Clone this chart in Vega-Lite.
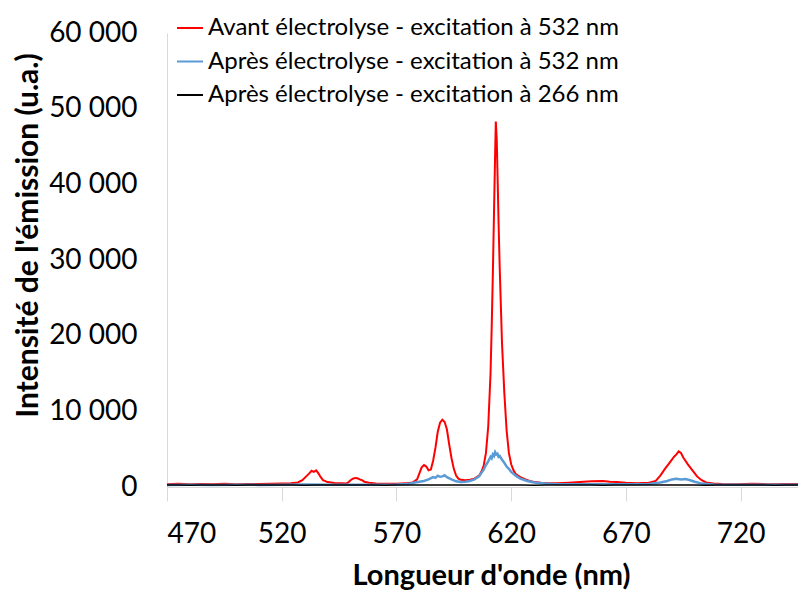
{
  "$schema": "https://vega.github.io/schema/vega-lite/v6.json",
  "width": 631,
  "height": 454,
  "autosize": {"type": "none"},
  "padding": {"left": 167, "top": 33, "right": 0, "bottom": 105},
  "background": "white",
  "config": {
    "view": {"stroke": null},
    "font": "Lato",
    "axis": {"labelFont": "Lato", "titleFont": "Lato", "labelColor": "#000000", "titleColor": "#000000"}
  },
  "layer": [
    {
      "data": {
        "values": [
          {"x":470,"y":380},{"x":475,"y":420},{"x":480,"y":360},{"x":485,"y":400},{"x":490,"y":380},{"x":495,"y":430},{"x":500,"y":370},{"x":505,"y":410},{"x":510,"y":390},{"x":515,"y":420},{"x":520,"y":450},{"x":524,"y":500},{"x":527,"y":600},{"x":529,"y":900},{"x":531,"y":1500},{"x":532,"y":1800},{"x":533,"y":2150},{"x":534,"y":2000},{"x":535,"y":2200},{"x":536,"y":1800},{"x":537,"y":1300},{"x":538,"y":900},{"x":540,"y":650},{"x":543,"y":520},{"x":546,"y":480},{"x":548,"y":450},{"x":549,"y":600},{"x":550,"y":900},{"x":551,"y":1100},{"x":552,"y":1200},{"x":553,"y":1150},{"x":554,"y":1000},{"x":555,"y":900},{"x":556,"y":700},{"x":558,"y":550},{"x":561,"y":450},{"x":565,"y":420},{"x":570,"y":430},{"x":574,"y":480},{"x":577,"y":600},{"x":579,"y":1000},{"x":580,"y":1800},{"x":581,"y":2600},{"x":582,"y":2900},{"x":583,"y":2700},{"x":584,"y":2200},{"x":585,"y":2300},{"x":586,"y":3500},{"x":587,"y":5200},{"x":588,"y":7300},{"x":589,"y":8500},{"x":590,"y":8900},{"x":591,"y":8600},{"x":592,"y":7600},{"x":593,"y":5600},{"x":594,"y":3800},{"x":595,"y":2400},{"x":596,"y":1500},{"x":597,"y":1100},{"x":598,"y":950},{"x":600,"y":900},{"x":602,"y":950},{"x":604,"y":1100},{"x":606,"y":1500},{"x":607,"y":2000},{"x":608,"y":2800},{"x":609,"y":4500},{"x":610,"y":8000},{"x":611,"y":15000},{"x":611.5,"y":21000},{"x":612,"y":28000},{"x":612.5,"y":36000},{"x":613,"y":44000},{"x":613.3,"y":48300},{"x":613.7,"y":46000},{"x":614,"y":42000},{"x":614.5,"y":35000},{"x":615,"y":29000},{"x":615.5,"y":24000},{"x":616,"y":19000},{"x":617,"y":12500},{"x":618,"y":7500},{"x":619,"y":4500},{"x":620,"y":3000},{"x":621,"y":2200},{"x":622,"y":1700},{"x":624,"y":1300},{"x":626,"y":1050},{"x":628,"y":800},{"x":630,"y":650},{"x":633,"y":550},{"x":636,"y":500},{"x":640,"y":480},{"x":645,"y":550},{"x":650,"y":650},{"x":655,"y":750},{"x":660,"y":800},{"x":663,"y":700},{"x":666,"y":650},{"x":670,"y":550},{"x":675,"y":500},{"x":680,"y":550},{"x":683,"y":800},{"x":685,"y":1500},{"x":687,"y":2400},{"x":689,"y":3200},{"x":691,"y":4000},{"x":692,"y":4300},{"x":693,"y":4700},{"x":694,"y":4500},{"x":695,"y":3900},{"x":697,"y":3000},{"x":699,"y":2200},{"x":701,"y":1400},{"x":703,"y":900},{"x":705,"y":600},{"x":708,"y":450},{"x":712,"y":400},{"x":718,"y":380},{"x":725,"y":420},{"x":732,"y":370},{"x":740,"y":400},{"x":745,"y":380}
        ]
      },
      "mark": {"type": "line", "strokeWidth": 2, "interpolate": "linear"},
      "encoding": {
        "x": {"field": "x", "type": "quantitative", "scale": {"domain": [470, 745], "nice": false, "zero": false},
          "axis": {"values": [470, 520, 570, 620, 670, 720], "title": "Longueur d'onde (nm)", "grid": false,
            "domainColor": "#d9d9d9", "tickColor": "#d9d9d9", "tickSize": 14, "labelFontSize": 28, "labelPadding": 19,
            "titleFontSize": 29, "titleFontWeight": "bold", "titleX": 324, "titleY": 97, "titleAlign": "center", "titleBaseline": "alphabetic"}},
        "y": {"field": "y", "type": "quantitative", "scale": {"domain": [0, 60000], "nice": false},
          "axis": {"values": [0, 10000, 20000, 30000, 40000, 50000, 60000], "title": "Intensité de l'émission (u.a.)", "grid": false,
            "ticks": false, "domainColor": "#d9d9d9", "labelFontSize": 28, "labelPadding": 30,
            "labelExpr": "replace(format(datum.value, ','), ',', ' ')",
            "titleFontSize": 30, "titleFontWeight": "bold", "titleX": -139, "titleY": 202, "titleAngle": -90, "titleAlign": "center", "titleBaseline": "middle"}},
        "color": {"datum": "Avant électrolyse - excitation à 532 nm", "type": "nominal",
          "scale": {"domain": ["Avant électrolyse - excitation à 532 nm", "Après électrolyse - excitation à 532 nm", "Après électrolyse - excitation à 266 nm"], "range": ["#ff0000", "#5b9bd5", "#000000"]},
          "legend": {"title": null, "orient": "none", "legendX": 9, "legendY": -19, "padding": 0, "symbolType": "stroke", "symbolSize": 676, "symbolStrokeWidth": 2,
            "labelFontSize": 24, "labelFont": "Lato", "labelColor": "#000000", "labelOffset": 4, "rowPadding": 7.5, "labelLimit": 600}}
      }
    },
    {
      "data": {
        "values": [
          {"x":470,"y":280},{"x":480,"y":300},{"x":490,"y":270},{"x":500,"y":310},{"x":510,"y":280},{"x":520,"y":300},{"x":530,"y":320},{"x":540,"y":290},{"x":550,"y":310},{"x":560,"y":300},{"x":570,"y":330},{"x":575,"y":400},{"x":578,"y":600},{"x":580,"y":700},{"x":582,"y":800},{"x":584,"y":1000},{"x":586,"y":1300},{"x":587,"y":1200},{"x":588,"y":1500},{"x":589,"y":1350},{"x":590,"y":1400},{"x":591,"y":1550},{"x":592,"y":1300},{"x":594,"y":1000},{"x":596,"y":750},{"x":598,"y":650},{"x":600,"y":700},{"x":602,"y":800},{"x":604,"y":1000},{"x":606,"y":1400},{"x":608,"y":2300},{"x":609,"y":2900},{"x":610,"y":3400},{"x":611,"y":4000},{"x":611.5,"y":3800},{"x":612,"y":4300},{"x":612.5,"y":4100},{"x":613,"y":4600},{"x":613.5,"y":4300},{"x":614,"y":4400},{"x":614.5,"y":4000},{"x":615,"y":4100},{"x":616,"y":3600},{"x":617,"y":3200},{"x":618,"y":2700},{"x":619,"y":2400},{"x":620,"y":2000},{"x":622,"y":1500},{"x":624,"y":1100},{"x":627,"y":800},{"x":630,"y":600},{"x":635,"y":450},{"x":640,"y":380},{"x":650,"y":350},{"x":660,"y":360},{"x":670,"y":350},{"x":680,"y":400},{"x":685,"y":600},{"x":688,"y":800},{"x":690,"y":1000},{"x":692,"y":1100},{"x":694,"y":1000},{"x":696,"y":1050},{"x":698,"y":900},{"x":700,"y":700},{"x":703,"y":450},{"x":708,"y":320},{"x":720,"y":300},{"x":735,"y":290},{"x":745,"y":300}
        ]
      },
      "mark": {"type": "line", "strokeWidth": 2.5},
      "encoding": {
        "x": {"field": "x", "type": "quantitative"},
        "y": {"field": "y", "type": "quantitative"},
        "color": {"datum": "Après électrolyse - excitation à 532 nm", "type": "nominal"}
      }
    },
    {
      "data": {
        "values": [
          {"x":470,"y":250},{"x":475,"y":270},{"x":480,"y":240},{"x":485,"y":260},{"x":490,"y":250},{"x":495,"y":280},{"x":500,"y":240},{"x":505,"y":260},{"x":510,"y":250},{"x":515,"y":270},{"x":520,"y":250},{"x":525,"y":260},{"x":530,"y":240},{"x":535,"y":270},{"x":540,"y":250},{"x":545,"y":260},{"x":550,"y":280},{"x":555,"y":250},{"x":560,"y":260},{"x":565,"y":240},{"x":570,"y":270},{"x":575,"y":250},{"x":580,"y":260},{"x":585,"y":280},{"x":590,"y":250},{"x":595,"y":260},{"x":600,"y":250},{"x":605,"y":270},{"x":610,"y":260},{"x":615,"y":280},{"x":620,"y":250},{"x":625,"y":260},{"x":630,"y":240},{"x":635,"y":270},{"x":640,"y":250},{"x":645,"y":260},{"x":650,"y":250},{"x":655,"y":270},{"x":660,"y":240},{"x":665,"y":260},{"x":670,"y":250},{"x":675,"y":270},{"x":680,"y":250},{"x":685,"y":260},{"x":690,"y":280},{"x":695,"y":250},{"x":700,"y":260},{"x":705,"y":240},{"x":710,"y":260},{"x":715,"y":250},{"x":720,"y":270},{"x":725,"y":250},{"x":730,"y":260},{"x":735,"y":240},{"x":740,"y":260},{"x":745,"y":250}
        ]
      },
      "mark": {"type": "line", "strokeWidth": 1.5},
      "encoding": {
        "x": {"field": "x", "type": "quantitative"},
        "y": {"field": "y", "type": "quantitative"},
        "color": {"datum": "Après électrolyse - excitation à 266 nm", "type": "nominal"}
      }
    }
  ]
}
